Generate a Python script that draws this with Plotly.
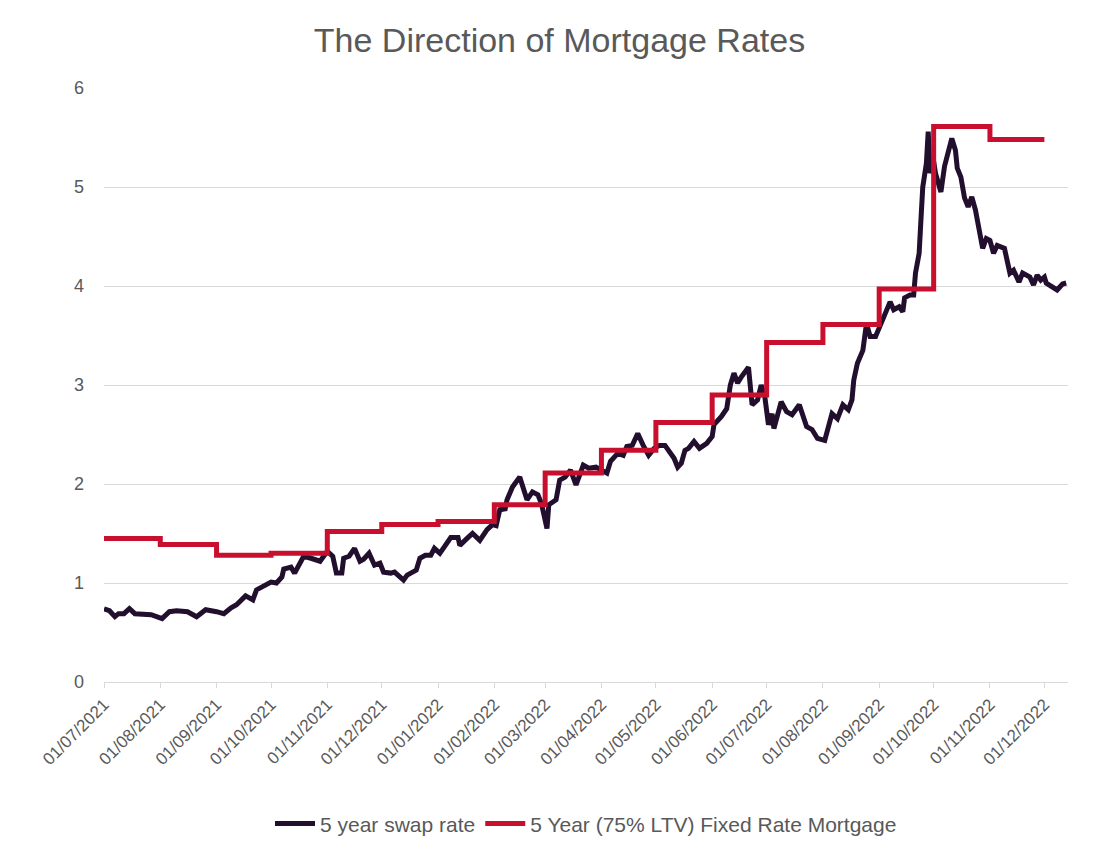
import plotly.graph_objects as go

# 5 year swap rate
swap_dates = [
    "2021-07-01", "2021-07-04", "2021-07-07", "2021-07-09", "2021-07-12", "2021-07-15", "2021-07-18",
    "2021-07-22", "2021-07-27", "2021-08-02", "2021-08-06", "2021-08-10", "2021-08-16", "2021-08-21",
    "2021-08-26", "2021-09-01", "2021-09-05", "2021-09-09", "2021-09-12", "2021-09-17", "2021-09-21",
    "2021-09-23", "2021-09-28", "2021-10-01", "2021-10-04", "2021-10-07", "2021-10-08", "2021-10-12",
    "2021-10-14", "2021-10-17", "2021-10-19", "2021-10-23", "2021-10-28", "2021-11-01", "2021-11-04",
    "2021-11-06", "2021-11-09", "2021-11-10", "2021-11-13", "2021-11-16", "2021-11-19", "2021-11-21",
    "2021-11-24", "2021-11-27", "2021-11-30", "2021-12-02", "2021-12-06", "2021-12-08", "2021-12-11",
    "2021-12-13", "2021-12-15", "2021-12-20", "2021-12-22", "2021-12-25", "2021-12-28", "2021-12-30",
    "2022-01-02", "2022-01-05", "2022-01-08", "2022-01-12", "2022-01-13", "2022-01-17", "2022-01-20",
    "2022-01-24", "2022-01-28", "2022-01-31", "2022-02-02", "2022-02-04", "2022-02-07", "2022-02-08",
    "2022-02-11", "2022-02-15", "2022-02-17", "2022-02-19", "2022-02-22", "2022-02-25", "2022-02-27",
    "2022-03-02", "2022-03-03", "2022-03-07", "2022-03-09", "2022-03-12", "2022-03-15", "2022-03-18",
    "2022-03-22", "2022-03-25", "2022-03-29", "2022-04-04", "2022-04-06", "2022-04-10", "2022-04-13",
    "2022-04-15", "2022-04-18", "2022-04-21", "2022-04-24", "2022-04-27", "2022-04-30", "2022-05-03",
    "2022-05-06", "2022-05-08", "2022-05-11", "2022-05-13", "2022-05-15", "2022-05-17", "2022-05-19",
    "2022-05-22", "2022-05-25", "2022-05-29", "2022-06-01", "2022-06-02", "2022-06-06", "2022-06-09",
    "2022-06-11", "2022-06-13", "2022-06-15", "2022-06-17", "2022-06-19", "2022-06-21", "2022-06-23",
    "2022-06-26", "2022-06-28", "2022-06-30", "2022-07-02", "2022-07-04", "2022-07-05", "2022-07-09",
    "2022-07-12", "2022-07-15", "2022-07-19", "2022-07-23", "2022-07-26", "2022-07-29", "2022-08-02",
    "2022-08-05", "2022-08-06", "2022-08-09", "2022-08-12", "2022-08-15", "2022-08-17", "2022-08-18",
    "2022-08-20", "2022-08-23", "2022-08-25", "2022-08-27", "2022-08-30", "2022-09-02", "2022-09-04",
    "2022-09-07", "2022-09-09", "2022-09-12", "2022-09-14", "2022-09-15", "2022-09-18", "2022-09-20",
    "2022-09-21", "2022-09-23", "2022-09-24", "2022-09-25", "2022-09-27", "2022-09-28", "2022-09-29",
    "2022-10-01", "2022-10-02", "2022-10-05", "2022-10-07", "2022-10-11", "2022-10-13", "2022-10-14",
    "2022-10-16", "2022-10-18", "2022-10-20", "2022-10-22", "2022-10-24", "2022-10-26", "2022-10-28",
    "2022-10-30", "2022-11-01", "2022-11-03", "2022-11-05", "2022-11-09", "2022-11-12", "2022-11-14",
    "2022-11-17", "2022-11-19", "2022-11-23", "2022-11-25", "2022-11-27", "2022-11-29", "2022-12-01",
    "2022-12-02", "2022-12-05", "2022-12-08", "2022-12-11", "2022-12-13",
]
swap_rate = [
    0.74, 0.72, 0.66, 0.69, 0.69, 0.74, 0.69,
    0.68, 0.68, 0.64, 0.71, 0.72, 0.71, 0.66,
    0.73, 0.71, 0.69, 0.75, 0.78, 0.87, 0.83,
    0.93, 0.98, 1.01, 1.00, 1.06, 1.14, 1.16,
    1.10, 1.20, 1.27, 1.25, 1.22, 1.32, 1.27,
    1.10, 1.10, 1.25, 1.27, 1.35, 1.22, 1.24,
    1.30, 1.18, 1.20, 1.11, 1.10, 1.11, 1.06,
    1.03, 1.08, 1.13, 1.25, 1.28, 1.28, 1.35,
    1.30, 1.37, 1.46, 1.46, 1.38, 1.45, 1.50,
    1.43, 1.54, 1.59, 1.58, 1.74, 1.75, 1.84,
    1.97, 2.07, 1.96, 1.84, 1.92, 1.89, 1.80,
    1.55, 1.79, 1.84, 2.04, 2.07, 2.14, 1.99,
    2.19, 2.16, 2.17, 2.11, 2.23, 2.31, 2.29,
    2.38, 2.39, 2.51, 2.39, 2.29, 2.36, 2.39,
    2.39, 2.33, 2.26, 2.17, 2.21, 2.34, 2.36,
    2.43, 2.36, 2.41, 2.48, 2.60, 2.68, 2.76,
    3.00, 3.12, 3.02, 3.08, 3.13, 3.18, 2.80,
    2.85, 3.00, 2.88, 2.60, 2.71, 2.56, 2.83,
    2.73, 2.70, 2.80, 2.58, 2.55, 2.46, 2.44,
    2.65, 2.71, 2.66, 2.80, 2.75, 2.85, 3.05,
    3.22, 3.35, 3.62, 3.49, 3.49, 3.62, 3.72,
    3.84, 3.76, 3.79, 3.74, 3.88, 3.91, 3.91,
    4.13, 4.33, 4.67, 5.00, 5.24, 5.56, 5.14,
    5.26, 5.14, 4.95, 5.21, 5.49, 5.37, 5.19,
    5.10, 4.89, 4.80, 4.90, 4.77, 4.57, 4.38,
    4.48, 4.46, 4.33, 4.41, 4.38, 4.13, 4.16,
    4.04, 4.13, 4.09, 4.01, 4.11, 4.06, 4.09,
    4.03, 3.99, 3.96, 4.02, 4.03,
]

# 5 Year (75% LTV) fixed rate mortgage, monthly
mortgage_dates = [
    "2021-07-01", "2021-08-01", "2021-09-01", "2021-10-01", "2021-11-01", "2021-12-01",
    "2022-01-01", "2022-02-01", "2022-03-01", "2022-04-01", "2022-05-01", "2022-06-01",
    "2022-07-01", "2022-08-01", "2022-09-01", "2022-10-01", "2022-11-01", "2022-12-01",
]
mortgage_rate = [
    1.45, 1.39, 1.28, 1.30, 1.52, 1.59,
    1.62, 1.79, 2.11, 2.34, 2.62, 2.90,
    3.43, 3.61, 3.97, 5.61, 5.48, 5.48,
]

tick_dates = mortgage_dates

grey = "#595959"

fig = go.Figure()

fig.add_trace(go.Scatter(
    x=swap_dates, y=swap_rate, mode="lines", name="5 year swap rate",
    line=dict(color="#220f2e", width=5),
))
fig.add_trace(go.Scatter(
    x=mortgage_dates, y=mortgage_rate, mode="lines", name="5 Year (75% LTV) Fixed Rate Mortgage",
    line=dict(color="#c8102e", width=5, shape="hv"),
))

fig.update_layout(
    title=dict(text="The Direction of Mortgage Rates", x=0.5, xanchor="center",
               y=0.962, yanchor="middle", font=dict(size=34, color=grey)),
    font=dict(family="Liberation Sans, Arial, sans-serif", color=grey, size=17),
    width=1103,
    height=852,
    margin=dict(l=96, r=43, t=80, b=178),
    plot_bgcolor="white",
    paper_bgcolor="white",
    showlegend=True,
    legend=dict(orientation="h", x=0.5, xanchor="center", y=-0.239, yanchor="middle",
                font=dict(size=21, color=grey), itemwidth=40, traceorder="normal"),
    xaxis=dict(
        type="date",
        range=["2021-07-01", "2022-12-14"],
        tickvals=tick_dates,
        tickformat="%d/%m/%Y",
        tickangle=-45,
        tickfont=dict(size=17, color=grey),
        showgrid=False,
        showline=True,
        linecolor="#d9d9d9",
        linewidth=1,
        ticks="outside",
        ticklen=5,
        tickcolor="#d9d9d9",
    ),
    yaxis=dict(
        range=[0, 6],
        dtick=1,
        tickfont=dict(size=18, color=grey),
        showgrid=True,
        gridcolor="#d9d9d9",
        gridwidth=1,
        zeroline=False,
        showline=False,
        ticklabelstandoff=19,
    ),
)

fig.write_html("out.html")
